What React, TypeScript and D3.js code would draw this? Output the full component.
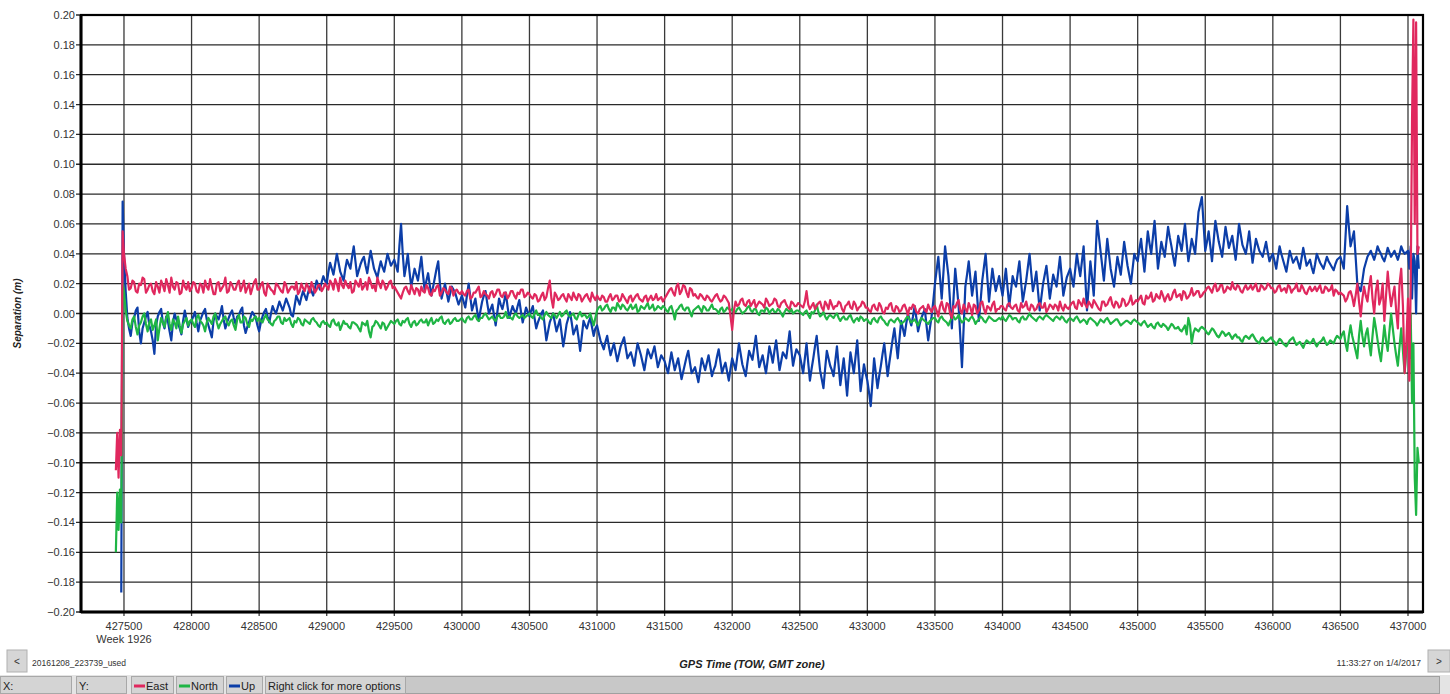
import React from 'react';
import * as d3 from 'd3';

// GPS separation plot, values in millimetres.
// main arrays: one value every 25 s of TOW from towStart
// mid arrays: the samples half way between them (towStart + 12.5 + i * 25)
const towStart = 427500;
const towStep = 25;

const xTickValues = [427500, 428000, 428500, 429000, 429500, 430000, 430500, 431000, 431500, 432000,
  432500, 433000, 433500, 434000, 434500, 435000, 435500, 436000, 436500, 437000];
const yTickValues = [-0.2, -0.18, -0.16, -0.14, -0.12, -0.1, -0.08, -0.06, -0.04, -0.02, 0,
  0.02, 0.04, 0.06, 0.08, 0.1, 0.12, 0.14, 0.16, 0.18, 0.2];

// start-up transient before the first regular sample
const headTow = [427440, 427450, 427460, 427470, 427480, 427490];
const eastHeadMm = [-105, -80, -110, -78, -95, 55];
const northHeadMm = [-160, -120, -145, -118, -140, 20];
const upHeadTow = [427480, 427490];
const upHeadMm = [-187, 75];

// end transient
const tailTow = [437010, 437020, 437030, 437040, 437050, 437060, 437070, 437080];
const eastTailMm = [-45, 20, 130, 197, 60, 195, 40, 45];
const northTailMm = [-30, 0, -60, -20, -110, -135, -90, -100];
const upTailMm = [30, 45, 10, 40, 35, 0, 45, 30];

// one row per 500 s grid cell
const eastMm = [
  40, 25, 17, 21, 14, 19, 23, 16, 20, 13, 18, 22, 15, 19, 24, 16, 20, 14, 18, 21,
  17, 20, 14, 19, 22, 16, 18, 13, 21, 17, 24, 15, 19, 16, 22, 18, 14, 20, 17, 23,
  16, 21, 12, 18, 15, 20, 17, 14, 19, 16, 18, 21, 15, 17, 20, 14, 18, 16, 19, 17,
  18, 22, 16, 20, 24, 17, 19, 21, 15, 20, 23, 18, 16, 21, 19, 24, 17, 20, 18, 22,
  18, 14, 10, 17, 15, 19, 13, 16, 18, 14, 17, 12, 15, 19, 14, 16, 13, 17, 15, 14,
  15, 12, 16, 11, 14, 18, 12, 13, 10, 15, 13, 16, 11, 14, 12, 15, 10, 13, 16, 12,
  13, 10, 12, 9, 14, 11, 22, 4, 12, 10, 13, 8, 11, 14, 9, 12, 10, 13, 8, 11,
  12, 9, 11, 8, 13, 10, 12, 9, 11, 7, 12, 10, 13, 9, 11, 8, 12, 10, 9, 11,
  10, 14, 17, 12, 20, 15, 18, 11, 16, 13, 10, 12, 9, 11, 8, 12, 10, 9, 11, 7,
  -11, 8, 6, 10, 5, 9, 7, 4, 8, 6, 10, 5, 7, 9, 4, 8, 6, 3, 7, 5,
  6, 4, 15, 3, 7, 5, 8, 2, 6, 9, 3, 5, 7, 1, 6, 4, 8, 2, 5, 7,
  4, 1, 6, 2, 5, 0, 3, 7, 1, 4, 2, 6, -1, 3, 5, 0, 4, 2, 6, 1,
  5, -2, 8, 1, 6, -3, 4, 9, 0, 3, 7, -1, 5, 2, 8, 0, 4, 6, 1, 3,
  5, 2, 7, 3, 6, 1, 4, 8, 2, 5, 3, 7, 4, 1, 6, 3, 5, 8, 2, 4,
  5, 8, 3, 7, 10, 4, 6, 9, 5, 2, 8, 6, 11, 4, 7, 5, 9, 6, 12, 7,
  8, 12, 6, 10, 14, 9, 11, 15, 8, 13, 10, 16, 12, 9, 14, 11, 17, 13, 15, 12,
  15, 18, 14, 20, 16, 19, 15, 17, 21, 16, 18, 14, 19, 17, 16, 20, 15, 18, 17, 19,
  17, 15, 19, 16, 14, 18, 16, 20, 15, 17, 13, 18, 16, 15, 19, 14, 17, 16, 12, 15,
  14, 12, 10, 15, 5, 20, -2, 18, 8, 25, 0, 22, 10, -5, 28, 5, 18, -10, 30, -40,
  10,
];
const eastMidMm = [
  30, 16, 22, 15, 20, 24, 14, 19, 15, 21, 14, 19, 23, 14, 18, 21, 13, 22, 16, 15,
  21, 15, 20, 14, 18, 23, 13, 20, 15, 19, 14, 21, 16, 20, 15, 22, 17, 13, 21, 16,
  19, 14, 20, 16, 13, 19, 15, 21, 14, 18, 16, 13, 20, 15, 18, 21, 14, 19, 15, 20,
  16, 20, 23, 15, 19, 22, 17, 14, 22, 18, 16, 21, 24, 17, 15, 20, 22, 16, 21, 17,
  16, 12, 14, 18, 13, 16, 17, 12, 15, 19, 13, 16, 18, 12, 17, 14, 18, 12, 16, 13,
  13, 15, 10, 14, 16, 11, 15, 12, 14, 11, 16, 12, 14, 10, 15, 12, 14, 16, 11, 14,
  11, 13, 8, 12, 9, 17, 10, 14, 9, 12, 10, 13, 9, 11, 13, 8, 12, 10, 14, 9,
  10, 12, 8, 11, 9, 12, 8, 13, 9, 11, 8, 12, 10, 8, 12, 10, 9, 13, 10, 8,
  12, 16, 14, 18, 13, 19, 14, 17, 12, 11, 13, 10, 12, 9, 10, 13, 8, 12, 9, -2,
  2, 5, 9, 6, 8, 5, 9, 6, 7, 4, 8, 6, 10, 5, 7, 9, 4, 8, 5, 7,
  5, 8, 6, 5, 3, 7, 4, 8, 3, 6, 5, 8, 3, 5, 8, 3, 6, 4, 8, 4,
  2, 5, 3, 7, 1, 4, 6, 2, 5, 1, 5, 3, 4, 6, 1, 3, 5, 1, 3, 4,
  2, 5, 3, 7, 0, 5, 7, 2, 6, 1, 4, 6, 0, 7, 3, 5, 2, 8, 3, 5,
  3, 6, 4, 5, 2, 7, 5, 3, 6, 2, 6, 4, 7, 3, 5, 6, 2, 4, 6, 3,
  7, 4, 9, 5, 6, 8, 4, 7, 3, 8, 5, 9, 6, 8, 4, 10, 5, 8, 6, 9,
  10, 7, 12, 11, 8, 13, 10, 12, 11, 9, 14, 11, 13, 15, 10, 13, 12, 15, 11, 14,
  17, 16, 18, 15, 19, 14, 18, 16, 17, 19, 15, 17, 16, 19, 18, 15, 19, 16, 20, 17,
  14, 18, 15, 17, 19, 14, 17, 15, 19, 14, 16, 15, 18, 17, 14, 18, 15, 19, 16, 13,
  13, 8, 14, 11, 12, 8, 10, 12, 18, 10, 15, 6, 20, 12, 15, 12, 2, 20, 5, -20,
];

const northMm = [
  15, -5, -10, -2, -14, -6, 0, -12, -4, -8, -18, -3, -9, 1, -11, -6, -2, -13, -5, -8,
  -4, -9, -1, -6, -12, -3, -7, 0, -10, -5, -2, -8, -4, -11, -1, -6, -3, -9, -5, -2,
  -3, -6, -1, -5, -8, -4, -2, -7, -5, -3, -9, -6, -4, -8, -5, -7, -3, -6, -9, -5,
  -6, -9, -4, -8, -11, -5, -7, -10, -6, -8, -12, -7, -5, -16, -8, -6, -10, -7, -9, -5,
  -7, -4, -8, -6, -3, -9, -5, -7, -4, -6, -8, -3, -6, -5, -2, -7, -4, -6, -3, -5,
  -3, -6, -2, -4, -1, -5, -3, 0, -4, -2, -5, -1, -3, 1, -2, -4, 0, -3, -1, -2,
  0, -3, 2, -1, -4, 1, -2, 0, -3, 1, -1, 2, -2, 0, -4, 1, -1, -3, 0, -8,
  2, 5, 3, 6, 1, 4, 7, 3, 5, 2, 6, 4, 1, 5, 3, 7, 4, 2, 5, 3,
  4, 1, 5, -4, 3, 6, 2, 4, -2, 3, 5, 1, 4, 2, 6, 3, 0, 4, 2, 3,
  3, 1, 4, 0, 2, 5, 1, 3, -1, 2, 4, 0, 3, 1, 2, -2, 3, 1, 0, 2,
  1, -1, 2, -3, 0, 6, -2, 1, -4, -1, -3, 0, -5, -2, -4, -1, -6, -3, -2, -5,
  -4, -7, -3, -6, -2, -5, -8, -4, -6, -3, -7, -5, -2, -6, -4, -8, -3, -5, -7, -4,
  -3, -6, -2, -5, -8, -3, -4, -1, -6, -3, -5, -2, -7, -4, -3, -6, -2, -4, -5, -3,
  -2, -5, -1, -4, -3, -6, -2, -4, 0, -3, -5, -2, -4, -1, -3, -5, -2, -4, -3, -6,
  -3, -5, -2, -6, -4, -7, -3, -5, -8, -4, -6, -3, -7, -5, -4, -8, -6, -5, -7, -4,
  -6, -8, -5, -9, -7, -10, -6, -9, -8, -11, -7, -10, -9, -12, -8, -3, -20, -10, -12, -9,
  -11, -14, -10, -13, -16, -12, -15, -13, -17, -14, -16, -19, -15, -17, -14, -18, -20, -16, -19, -17,
  -18, -21, -17, -20, -22, -18, -16, -21, -19, -23, -18, -20, -17, -22, -19, -16, -21, -18, -20, -15,
  -17, -12, -25, -8, -20, -30, -5, -22, -10, -28, -3, -18, -32, -8, -25, 0, -20, -35, -10, -40,
  -15,
];
const northMidMm = [
  2, -8, -4, -9, -8, -2, -7, -6, -11, -4, -10, -6, -3, -7, -4, -10, -8, -7, -3, -5,
  -7, -3, -5, -8, -6, -5, -2, -6, -7, -3, -6, -5, -8, -4, -6, -2, -7, -4, -3, -5,
  -5, -3, -4, -7, -5, -2, -6, -3, -4, -7, -5, -3, -7, -4, -6, -4, -5, -8, -6, -7,
  -8, -5, -7, -6, -8, -7, -9, -6, -7, -10, -6, -8, -12, -9, -5, -8, -6, -11, -7, -6,
  -5, -7, -5, -4, -7, -6, -8, -5, -6, -4, -5, -7, -4, -3, -6, -5, -7, -4, -5, -4,
  -5, -3, -4, -2, -4, -3, -1, -2, -3, -4, -2, -3, -2, -3, -3, -1, -2, -2, -3, -1,
  -2, 0, -1, -3, -1, -1, -3, -1, -1, -2, 1, -1, -1, -3, -1, -2, -1, -2, -4, -3,
  4, 2, 5, 3, 4, 2, 5, 6, 3, 4, 3, 6, 2, 4, 5, 3, 6, 3, 4, 5,
  2, 4, 1, 2, 5, 3, 4, 1, 2, 4, 3, 5, 2, 4, 3, 2, 3, 1, 4, 2,
  1, 3, 2, 1, 4, 2, 3, 0, 2, 1, 3, 2, 1, 3, 0, 1, 2, 3, 1, 2,
  0, 1, -1, 1, 2, 1, -1, -2, -2, -2, -1, -3, -3, -4, -2, -4, -4, -5, -3, -4,
  -6, -4, -5, -3, -4, -7, -5, -5, -4, -5, -6, -3, -4, -5, -6, -5, -4, -6, -5, -3,
  -5, -3, -4, -6, -5, -2, -3, -4, -5, -4, -3, -4, -5, -2, -5, -4, -3, -5, -4, -4,
  -4, -3, -2, -3, -5, -3, -4, -2, -2, -4, -3, -3, -2, -2, -4, -3, -3, -2, -5, -4,
  -4, -3, -4, -5, -5, -4, -4, -6, -6, -5, -4, -5, -6, -4, -6, -7, -5, -6, -5, -5,
  -7, -6, -7, -8, -9, -7, -8, -7, -9, -9, -8, -10, -11, -10, -14, -8, -13, -11, -10, -10,
  -13, -12, -11, -15, -14, -13, -14, -15, -15, -16, -18, -16, -16, -15, -16, -19, -17, -18, -18, -16,
  -19, -19, -18, -21, -20, -17, -19, -20, -21, -20, -19, -19, -20, -20, -18, -19, -20, -19, -17, -16,
  -14, -20, -15, -15, -25, -15, -15, -14, -20, -15, -10, -26, -20, -18, -12, -10, -28, -22, -25, -25,
];

const upMm = [
  40, -3, -15, -3, 4, -20, -6, 1, -12, -27, -2, 3, -10, -5, -18, 0, -7, -14, 2, -9,
  -5, 1, -12, -2, 3, -8, -16, 0, -4, 5, -10, -3, 2, -7, -1, 4, -13, -6, 1, -3,
  -12, -2, 3, -6, 5, 0, 8, 2, 10, 4, -2, 12, 6, 15, 9, 18, 12, 22, 16, 25,
  20, 34, 26, 40, 28, 22, 36, 30, 45, 25, 33, 38, 27, 42, 30, 24, 35, 28, 40, 32,
  36, 28, 60, 25, 40, 18, 30, 22, 38, 15, 27, 12, 24, 35, 10, 20, 8, 18, 14, 6,
  12, 4, 20, 2, 10, -5, 8, 15, 0, 6, -8, 10, 3, 14, -3, 5, 0, 9, -6, 4,
  -2, 5, -10, -3, 2, -18, -6, 0, -12, -4, -22, -7, 1, -14, -8, -25, -5, -10, -3, -15,
  -8, -18, -24, -15, -28, -20, -32, -22, -16, -30, -26, -35, -20, -28, -38, -24, -30, -22, -36, -28,
  -32, -40, -26, -38, -30, -44, -34, -25, -40, -36, -46, -30, -38, -28, -42, -35, -24, -40, -33, -45,
  -30, -38, -20, -34, -42, -25, -31, -15, -36, -28, -40, -22, -33, -18, -38, -26, -30, -12, -35, -24,
  -28, -40, -20, -45, -30, -15, -38, -50, -25, -35, -42, -22, -48, -30, -55, -26, -40, -18, -52, -34,
  -45, -62, -30, -50, -35, -20, -42, -25, -10, -30, -5, -15, 0, -8, 5, -12, -3, 3, -18, -2,
  20, 38, 10, 45, 25, -10, 30, 5, -36, 18, 35, 12, 28, -5, 22, 40, 8, 30, 15, 25,
  12, 30, 5, 25, 18, 35, 8, 22, 40, 15, 28, 2, 20, 32, 10, 26, 18, 38, 12, 24,
  30, 18, 40, 25, 45, 2, 35, 12, 62, 42, 22, 50, 30, 18, 38, 26, 48, 32, 20, 40,
  35, 50, 28, 55, 40, 62, 30, 48, 38, 58, 45, 32, 52, 42, 60, 35, 50, 40, 68, 78,
  42, 55, 35, 62, 48, 38, 58, 44, 52, 36, 60, 46, 40, 55, 34, 50, 42, 38, 48, 35,
  40, 30, 45, 36, 28, 42, 34, 38, 30, 44, 32, 36, 27, 40, 34, 30, 38, 33, 29, 36,
  38, 30, 72, 45, 55, 20, 15, 30, 38, 42, 36, 45, 40, 35, 44, 38, 42, 36, 45, 40,
  42,
];
const upMidMm = [
  15, -10, -6, 2, -12, -10, -2, -8, -18, -8, 1, -6, -2, -12, -6, -4, -10, -5, -4, -6,
  -2, -6, -5, 1, -4, -12, -5, -2, 0, -4, -6, 0, -3, -2, 2, -8, -9, -2, -1, -8,
  -6, 1, -2, 0, 2, 4, 5, 6, 7, -1, 5, 9, 11, 12, 14, 15, 17, 19, 21, 22,
  28, 30, 33, 34, 25, 30, 33, 38, 35, 29, 36, 32, 35, 36, 27, 30, 31, 34, 36, 34,
  32, 45, 40, 32, 28, 24, 26, 30, 26, 22, 19, 18, 30, 20, 15, 14, 13, 16, 10, 9,
  8, 12, 11, 6, 2, 2, 12, 7, 3, -1, 1, 6, 8, 5, 1, 2, 5, 1, -1, 1,
  2, -3, -6, 0, -8, -12, -3, -6, -8, -13, -15, -3, -6, -11, -16, -15, -8, -6, -9, -10,
  -13, -21, -19, -22, -24, -26, -27, -19, -23, -28, -30, -27, -24, -33, -31, -27, -26, -29, -32, -30,
  -36, -33, -32, -34, -37, -39, -29, -33, -38, -41, -38, -34, -33, -35, -38, -29, -32, -36, -39, -37,
  -34, -29, -27, -38, -33, -28, -23, -26, -32, -34, -31, -27, -25, -28, -32, -28, -21, -24, -29, -26,
  -34, -30, -33, -37, -22, -27, -44, -37, -30, -38, -32, -35, -39, -42, -40, -33, -29, -35, -43, -40,
  -53, -46, -40, -42, -27, -31, -33, -17, -20, -17, -10, -7, -4, -2, -3, -7, 0, -8, -10, 8,
  29, 24, 27, 35, 7, 10, 18, -15, -9, 26, 23, 20, 11, 8, 31, 24, 19, 22, 20, 18,
  21, 17, 15, 21, 27, 21, 15, 31, 27, 21, 15, 11, 26, 21, 18, 22, 28, 25, 18, 27,
  24, 29, 32, 35, 23, 18, 24, 37, 52, 32, 36, 40, 24, 28, 32, 37, 40, 26, 30, 37,
  43, 39, 42, 47, 51, 46, 39, 43, 48, 51, 38, 42, 47, 51, 47, 42, 45, 54, 73, 60,
  48, 45, 49, 55, 43, 48, 51, 48, 44, 48, 53, 43, 47, 44, 42, 46, 40, 43, 41, 38,
  35, 38, 40, 32, 35, 38, 36, 34, 37, 38, 34, 31, 33, 37, 32, 34, 35, 31, 33, 37,
  34, 51, 58, 50, 38, 17, 22, 34, 40, 39, 40, 42, 37, 39, 41, 40, 39, 40, 42, 41,
];

const seriesNames = ['Up', 'North', 'East'];
const seriesColors = { East: '#e0285e', North: '#1fb545', Up: '#0c3ea8' };

const buildSeries = (hTow, hMm, mainMm, midMm, tMm) => {
  const pts = hTow.map((t, i) => [t, hMm[i] / 1000]);
  mainMm.forEach((v, i) => {
    pts.push([towStart + i * towStep, v / 1000]);
    if (i < midMm.length) pts.push([towStart + (i + 0.5) * towStep, midMm[i] / 1000]);
  });
  tailTow.forEach((t, i) => pts.push([t, tMm[i] / 1000]));
  return pts;
};

const App = () => {
  const width = 1450;
  const height = 694;
  const margin = { left: 81, top: 15, right: 1423, bottom: 612 };

  const x = d3.scaleLinear().domain([427182, 437111]).range([margin.left, margin.right]);
  const y = d3.scaleLinear().domain([-0.2, 0.2]).range([margin.bottom, margin.top]);

  const series = {
    East: buildSeries(headTow, eastHeadMm, eastMm, eastMidMm, eastTailMm),
    North: buildSeries(headTow, northHeadMm, northMm, northMidMm, northTailMm),
    Up: buildSeries(upHeadTow, upHeadMm, upMm, upMidMm, upTailMm),
  };

  const line = d3.line().x((d) => x(d[0])).y((d) => y(d[1]));

  const font = 'Liberation Sans, Arial, sans-serif';
  const labelColor = '#333';

  // status bar legend boxes
  const legendBoxes = [
    { name: 'East', x0: 131, x1: 173 },
    { name: 'North', x0: 176, x1: 223 },
    { name: 'Up', x0: 226, x1: 262 },
  ];

  return (
    <div style={{ position: 'fixed', left: 0, top: 0 }}>
      <svg width={width} height={height} style={{ display: 'block', background: '#fff' }}>
        {/* grid */}
        {xTickValues.map((t) => (
          <line key={'gx' + t} x1={x(t)} x2={x(t)} y1={margin.top} y2={margin.bottom + 4}
            stroke="#3a3a3a" strokeWidth={1.3} />
        ))}
        {yTickValues.map((v) => (
          <line key={'gy' + v} x1={margin.left - 5} x2={margin.right} y1={y(v)} y2={y(v)}
            stroke="#2a2a2a" strokeWidth={1.3} />
        ))}

        {/* data */}
        <g fill="none" strokeWidth={2.2} strokeLinejoin="round">
          {seriesNames.map((name) => (
            <path key={name} d={line(series[name])} stroke={seriesColors[name]} />
          ))}
        </g>

        {/* frame */}
        <rect x={margin.left} y={margin.top} width={margin.right - margin.left}
          height={margin.bottom - margin.top} fill="none" stroke="#000" strokeWidth={2.2} />
        <line x1={margin.left} x2={margin.left} y1={margin.top} y2={margin.bottom + 1} stroke="#000" strokeWidth={3} />
        <line x1={margin.left} x2={margin.right} y1={margin.bottom} y2={margin.bottom} stroke="#000" strokeWidth={3} />

        {/* y tick labels */}
        {yTickValues.map((v) => (
          <text key={'ly' + v} x={75} y={y(v) + 4} textAnchor="end" fontFamily={font} fontSize={11}
            fill={labelColor}>
            {d3.format('.2f')(Math.abs(v) < 1e-9 ? 0 : v)}
          </text>
        ))}
        {/* x tick labels */}
        {xTickValues.map((t) => (
          <text key={'lx' + t} x={x(t)} y={630} textAnchor="middle" fontFamily={font} fontSize={11}
            fill={labelColor}>
            {t}
          </text>
        ))}
        <text x={x(427500)} y={643} textAnchor="middle" fontFamily={font} fontSize={11} fill={labelColor}>
          Week 1926
        </text>

        {/* axis titles */}
        <text transform={`translate(21, ${(margin.top + margin.bottom) / 2}) rotate(-90)`} textAnchor="middle"
          fontFamily={font} fontSize={10} fontWeight="bold" fontStyle="italic" fill="#222">
          Separation (m)
        </text>
        <text x={752} y={668} textAnchor="middle" fontFamily={font} fontSize={11} fontWeight="bold"
          fontStyle="italic" fill="#222">
          GPS Time (TOW, GMT zone)
        </text>

        {/* scroll buttons and file / date info */}
        <rect x={7} y={650} width={20} height={22} fill="#d6d6d6" stroke="#b0b0b0" />
        <text x={17} y={665} textAnchor="middle" fontFamily={font} fontSize={10} fill="#333">&lt;</text>
        <text x={32} y={666} fontFamily={font} fontSize={8.5} fill="#333">20161208_223739_used</text>
        <text x={1421} y={666} textAnchor="end" fontFamily={font} fontSize={9} fill="#333">
          11:33:27 on 1/4/2017
        </text>
        <rect x={1428} y={650} width={22} height={22} fill="#d6d6d6" stroke="#b0b0b0" />
        <text x={1439} y={665} textAnchor="middle" fontFamily={font} fontSize={10} fill="#333">&gt;</text>

        {/* status bar */}
        <rect x={0} y={675} width={width} height={19} fill="#e4e4e4" />
        <rect x={0.5} y={676.5} width={71} height={17} fill="#d4d4d4" stroke="#a8a8a8" />
        <text x={3} y={690} fontFamily={font} fontSize={11} fill="#222">X:</text>
        <rect x={76.5} y={676.5} width={50} height={17} fill="#d4d4d4" stroke="#a8a8a8" />
        <text x={79} y={690} fontFamily={font} fontSize={11} fill="#222">Y:</text>
        {legendBoxes.map((b) => (
          <g key={b.name}>
            <rect x={b.x0 + 0.5} y={676.5} width={b.x1 - b.x0} height={17} fill="#d4d4d4" stroke="#a8a8a8" />
            <line x1={b.x0 + 3} x2={b.x0 + 14} y1={686} y2={686} stroke={seriesColors[b.name]} strokeWidth={3} />
            <text x={b.x0 + 15} y={690} fontFamily={font} fontSize={11} fill="#222">{b.name}</text>
          </g>
        ))}
        <rect x={265.5} y={676.5} width={1174} height={17} fill="#c8c8c8" stroke="#a0a0a0" />
        <rect x={265.5} y={676.5} width={140} height={17} fill="#d4d4d4" stroke="#a8a8a8" />
        <text x={268} y={690} fontFamily={font} fontSize={11} fill="#222">Right click for more options</text>
      </svg>
    </div>
  );
};

export default App;
